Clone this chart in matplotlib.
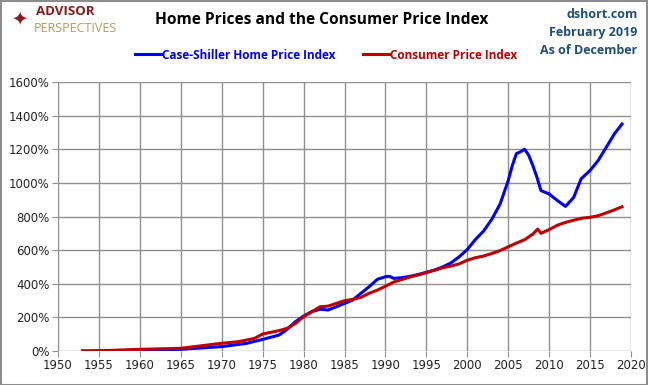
import matplotlib.pyplot as plt
import numpy as np
from matplotlib.patches import Rectangle

# values (percent change since 1953)
hpi_years = [1953, 1957, 1960, 1965, 1970, 1973, 1975, 1977, 1978, 1979, 1980,
             1981, 1982, 1983, 1984, 1985, 1986, 1987, 1988, 1989, 1990, 1990.5,
             1991, 1992, 1993, 1994, 1995, 1996, 1997, 1998, 1999, 2000, 2001,
             2002, 2003, 2004, 2005, 2005.5, 2006, 2006.5, 2007, 2007.5, 2008,
             2008.5, 2009, 2010, 2011, 2012, 2013, 2013.9, 2015, 2016, 2017,
             2018, 2018.9]
hpi_vals = [0, 2, 6, 10, 26, 45, 69, 95, 129, 174, 208,
            234, 248, 244, 263, 283, 303, 343, 382, 426, 442, 444,
            432, 436, 444, 455, 468, 482, 500, 524, 560, 604, 664,
            714, 784, 874, 1014, 1104, 1174, 1185, 1200, 1164, 1104,
            1034, 954, 934, 895, 860, 914, 1024, 1074, 1134, 1214,
            1294, 1350]

cpi_years = [1953, 1955, 1960, 1965, 1970, 1972, 1974, 1975, 1977, 1978, 1979,
             1980, 1981, 1982, 1983, 1984, 1985, 1986, 1987, 1988, 1989, 1990,
             1991, 1992, 1993, 1994, 1995, 1996, 1997, 1998, 1999, 2000, 2001,
             2002, 2003, 2004, 2005, 2006, 2007, 2008, 2008.6, 2009, 2010,
             2011, 2012, 2013, 2014, 2015, 2016, 2017, 2018, 2018.9]
cpi_vals = [0, 1, 10, 16, 46, 55, 75, 101, 121, 135, 164,
            204, 234, 263, 267, 283, 299, 307, 319, 343, 362, 385,
            410, 425, 440, 452, 466, 480, 495, 505, 518, 540, 555,
            565, 580, 597, 620, 642, 662, 695, 725, 700, 722,
            748, 765, 778, 790, 795, 805, 822, 840, 858]

x_ticks = list(range(1950, 2021, 5))
y_ticks = list(range(0, 1601, 200))

fig = plt.figure(figsize=(6.48, 3.85), dpi=100)
ax = fig.add_axes([0.0895, 0.0883, 0.8843, 0.6987])

ax.plot(hpi_years, hpi_vals, color='#0000FF', lw=2.2, label='Case-Shiller Home Price Index')
ax.plot(cpi_years, cpi_vals, color='#C00000', lw=2.2, label='Consumer Price Index')

ax.set_xlim(1950, 2020)
ax.set_ylim(0, 1600)
ax.set_xticks(x_ticks)
ax.set_yticks(y_ticks)
ax.set_yticklabels(['%d%%' % v for v in y_ticks])
ax.grid(True, color='#909090', lw=1)
ax.set_axisbelow(True)
for s in ax.spines.values():
    s.set_visible(False)
ax.tick_params(length=4, color='#909090', labelsize=8.5, labelcolor='#222222', pad=2)

leg = fig.legend(loc='center', bbox_to_anchor=(0.503, 0.857), ncol=2, frameon=False,
                 fontsize=8.5, handlelength=2.2, handletextpad=0.1, columnspacing=2.3)
for txt, c in zip(leg.get_texts(), ['#0000FF', '#C00000']):
    txt.set_color(c)
    txt.set_fontweight('bold')
    txt.set_family('Open Sans')

fig.text(0.497, 0.948, 'Home Prices and the Consumer Price Index', ha='center', va='center',
         fontsize=11.2, fontweight='bold', family='Open Sans')
fig.text(0.984, 0.962, 'dshort.com', ha='right', va='center', fontsize=9,
         fontweight='bold', color='#1F4E79', family='Open Sans')
fig.text(0.984, 0.915, 'February 2019', ha='right', va='center', fontsize=9,
         fontweight='bold', color='#1F4E79', family='Open Sans')
fig.text(0.984, 0.868, 'As of December', ha='right', va='center', fontsize=9,
         fontweight='bold', color='#1F4E79', family='Open Sans')

# logo
fig.text(0.030, 0.952, '\u2726', ha='center', va='center', fontsize=14, color='#8B1A1A',
         family='DejaVu Sans')
fig.text(0.055, 0.970, 'ADVISOR', ha='left', va='center', fontsize=9.5,
         fontweight='bold', color='#8B1A1A', family='Open Sans')
fig.text(0.052, 0.927, 'PERSPECTIVES', ha='left', va='center', fontsize=9,
         color='#B89A5A', family='Open Sans')

fig.patches.append(Rectangle((0.001, 0.001), 0.997, 0.997, transform=fig.transFigure,
                             fill=False, edgecolor='#8c8c8c', lw=1.5))

plt.savefig('out.png', dpi=100)
